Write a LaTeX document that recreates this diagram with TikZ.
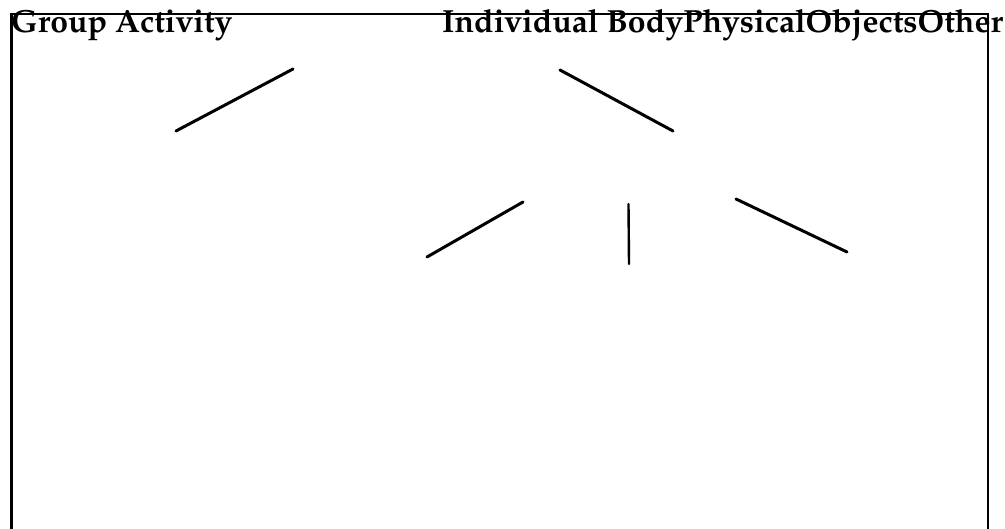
\documentclass[tikz,border=0pt]{standalone}
\IfFileExists{t1pplx.fd}{%
  \usepackage[T1]{fontenc}\usepackage{mathpazo}%
  \newcommand\lblfont{\fontsize{32}{36}\selectfont\bfseries}}{%
  \usepackage{fontspec}\setmainfont{Liberation Serif}%
  \newcommand\lblfont{\fontsize{34}{38}\selectfont\bfseries}}
\begin{document}
\begin{tikzpicture}[x=1pt,y=-1pt,
  lbl/.style={anchor=base west,inner sep=0pt,font=\lblfont},
  edge/.style={line width=3pt,line cap=round}]
\useasboundingbox (0,0) rectangle (1005,529);
\clip (0,0) rectangle (1005,529);
\draw[line width=2.8pt] (11.5,14) rectangle (988,560);
\node[lbl] (ga) at (11,33) {Group Activity};
\node[lbl] (ib) at (442,33) {Individual BodyPhysicalObjectsOther};
\coordinate (a1) at (176,131); \coordinate (a2) at (293,69);
\coordinate (b1) at (560,70); \coordinate (b2) at (673,131);
\coordinate (c1) at (427,257); \coordinate (c2) at (523,202);
\coordinate (d1) at (628.5,204); \coordinate (d2) at (629,264);
\coordinate (e1) at (736,199); \coordinate (e2) at (847,252);
\draw[edge] (a1) -- (a2);
\draw[edge] (b1) -- (b2);
\draw[edge] (c1) -- (c2);
\draw[edge,line width=2.4pt] (d1) -- (d2);
\draw[edge] (e1) -- (e2);
\end{tikzpicture}
\end{document}
